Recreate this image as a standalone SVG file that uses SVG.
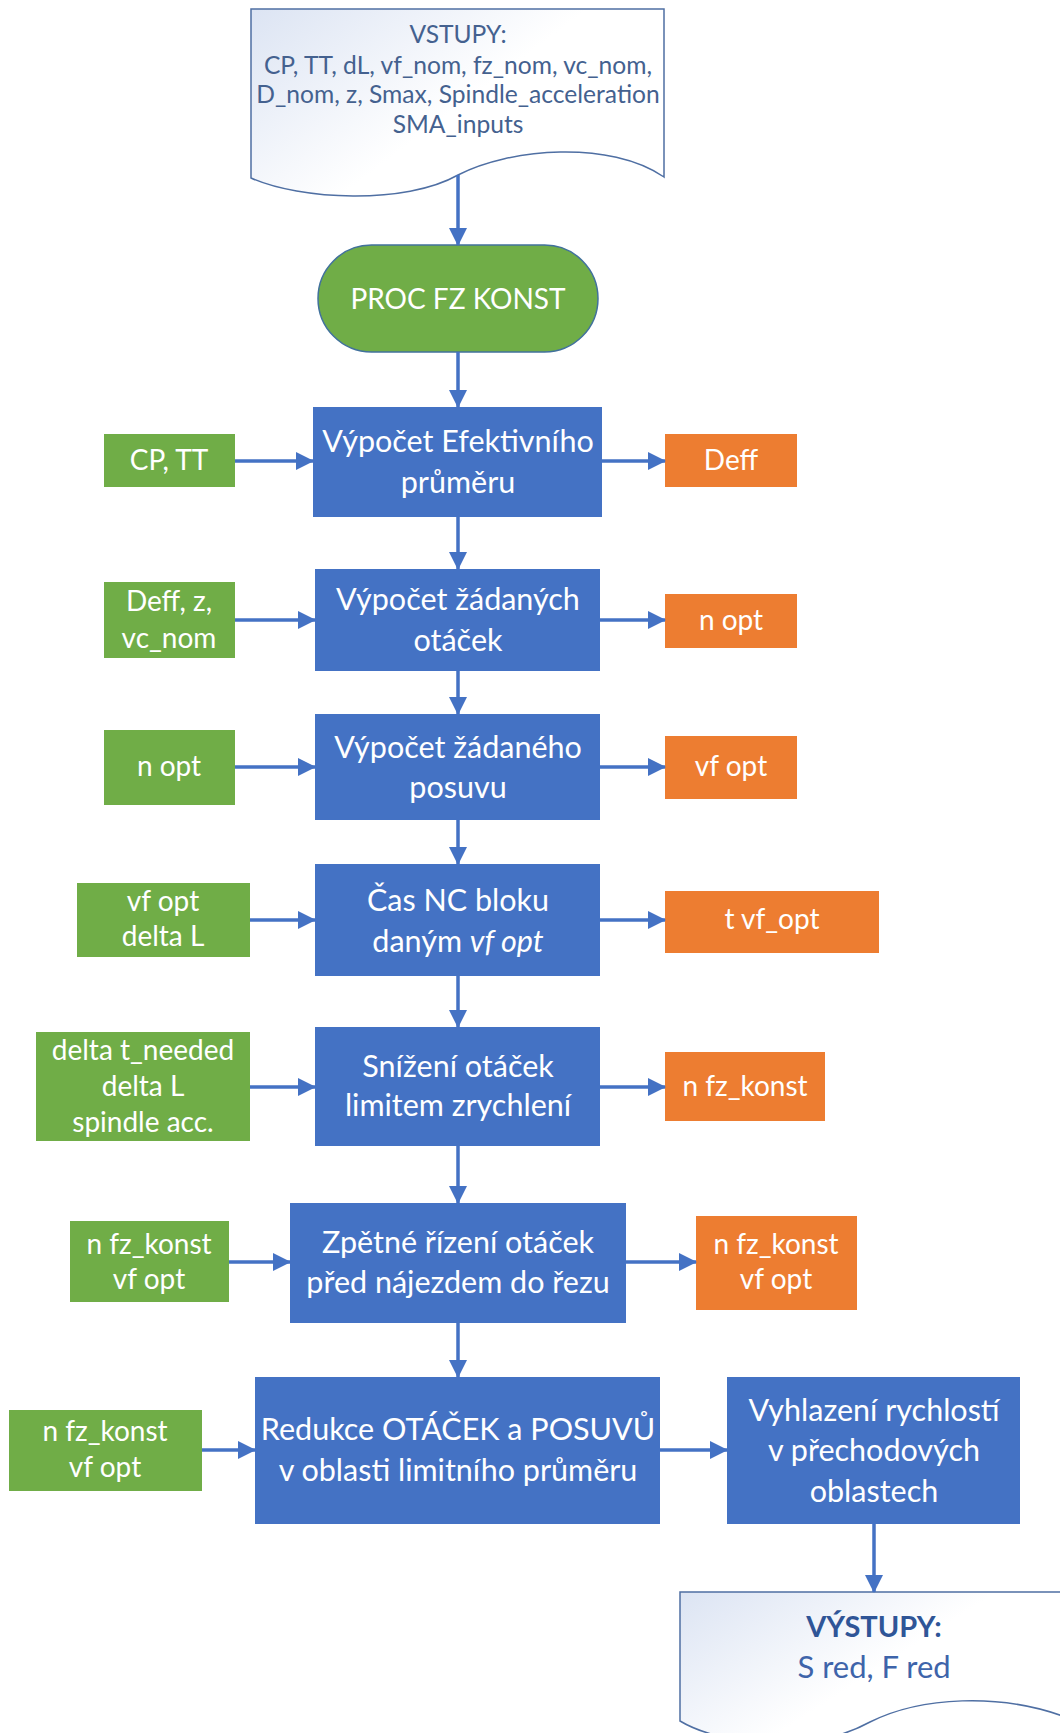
<svg xmlns="http://www.w3.org/2000/svg" width="1060" height="1733" viewBox="0 0 1060 1733">
<defs>
<linearGradient id="docg" x1="0" y1="0" x2="1" y2="0.6">
<stop offset="0" stop-color="#DCE4F3"/>
<stop offset="0.6" stop-color="#FFFFFF"/>
</linearGradient>
<marker id="ah" markerUnits="userSpaceOnUse" markerWidth="18" markerHeight="18" refX="17" refY="9" orient="auto">
<path d="M0,0 L18,9 L0,18 Z" fill="#4472C4"/>
</marker>
<style>
.t{font-family:Lato,"Liberation Sans",sans-serif;font-size:28px;fill:#FFFFFF;text-anchor:middle}
.bt{font-size:30.5px}
.b{fill:#4472C4}
.g{fill:#70AD47}
.o{fill:#ED7D31}
.doc{fill:url(#docg);stroke:#4F6FA3;stroke-width:1.5}
.dt{font-family:Lato,"Liberation Sans",sans-serif;font-size:24.6px;fill:#44618F;text-anchor:middle}
.c{stroke:#4472C4;stroke-width:3.5;fill:none;marker-end:url(#ah)}
</style>
</defs>

<g id="vstupy">
<path class="doc" d="M251,9 H664 V177 C610,140 510,148 458,175 C405,205 300,200 251,178 Z"/>
<text class="dt" x="458" y="43">VSTUPY:</text>
<text class="dt" x="458" y="74">CP, TT, dL, vf_nom, fz_nom, vc_nom,</text>
<text class="dt" x="458" y="103">D_nom, z, Smax, Spindle_acceleration</text>
<text class="dt" x="458" y="133">SMA_inputs</text>
</g>

<g id="proc">
<rect x="318" y="245" width="280" height="107" rx="53.5" fill="#70AD47" stroke="#41719C" stroke-width="1.5"/>
<text class="t" x="458" y="309">PROC FZ KONST</text>
</g>

<g id="b1">
<rect class="b" x="313" y="407" width="289" height="110"/>
<text class="t bt" x="458" y="452">Výpočet Efektivního</text>
<text class="t bt" x="458" y="493">průměru</text>
</g>
<g id="in1">
<rect class="g" x="104" y="434" width="131" height="53"/>
<text class="t" x="169" y="470">CP, TT</text>
</g>
<g id="out1">
<rect class="o" x="665" y="434" width="132" height="53"/>
<text class="t" x="731" y="470">Deff</text>
</g>

<g id="b2">
<rect class="b" x="315" y="569" width="285" height="102"/>
<text class="t bt" x="458" y="610">Výpočet žádaných</text>
<text class="t bt" x="458" y="651">otáček</text>
</g>
<g id="in2">
<rect class="g" x="104" y="582" width="131" height="76"/>
<text class="t" x="169" y="611">Deff, z,</text>
<text class="t" x="169" y="648">vc_nom</text>
</g>
<g id="out2">
<rect class="o" x="665" y="594" width="132" height="54"/>
<text class="t" x="731" y="630">n opt</text>
</g>

<g id="b3">
<rect class="b" x="315" y="714" width="285" height="106"/>
<text class="t bt" x="458" y="758">Výpočet žádaného</text>
<text class="t bt" x="458" y="798">posuvu</text>
</g>
<g id="in3">
<rect class="g" x="104" y="730" width="131" height="75"/>
<text class="t" x="169" y="776">n opt</text>
</g>
<g id="out3">
<rect class="o" x="665" y="736" width="132" height="63"/>
<text class="t" x="731" y="776">vf opt</text>
</g>

<g id="b4">
<rect class="b" x="315" y="864" width="285" height="112"/>
<text class="t bt" x="458" y="911">Čas NC bloku</text>
<text class="t bt" x="458" y="952">daným <tspan font-style="italic">vf opt</tspan></text>
</g>
<g id="in4">
<rect class="g" x="77" y="883" width="173" height="74"/>
<text class="t" x="163" y="911">vf opt</text>
<text class="t" x="163" y="946">delta L</text>
</g>
<g id="out4">
<rect class="o" x="665" y="891" width="214" height="62"/>
<text class="t" x="772" y="929">t vf_opt</text>
</g>

<g id="b5">
<rect class="b" x="315" y="1027" width="285" height="119"/>
<text class="t bt" x="458" y="1077">Snížení otáček</text>
<text class="t bt" x="458" y="1116">limitem zrychlení</text>
</g>
<g id="in5">
<rect class="g" x="36" y="1032" width="214" height="109"/>
<text class="t" x="143" y="1060">delta t_needed</text>
<text class="t" x="143" y="1096">delta L</text>
<text class="t" x="143" y="1132">spindle acc.</text>
</g>
<g id="out5">
<rect class="o" x="665" y="1052" width="160" height="69"/>
<text class="t" x="745" y="1096">n fz_konst</text>
</g>

<g id="b6">
<rect class="b" x="290" y="1203" width="336" height="120"/>
<text class="t bt" x="458" y="1253">Zpětné řízení otáček</text>
<text class="t bt" x="458" y="1293">před nájezdem do řezu</text>
</g>
<g id="in6">
<rect class="g" x="70" y="1221" width="159" height="81"/>
<text class="t" x="149" y="1254">n fz_konst</text>
<text class="t" x="149" y="1289">vf opt</text>
</g>
<g id="out6">
<rect class="o" x="696" y="1216" width="161" height="94"/>
<text class="t" x="776" y="1254">n fz_konst</text>
<text class="t" x="776" y="1289">vf opt</text>
</g>

<g id="b7">
<rect class="b" x="255" y="1377" width="405" height="147"/>
<text class="t bt" x="458" y="1440">Redukce OTÁČEK a POSUVŮ</text>
<text class="t bt" x="458" y="1481">v oblasti limitního průměru</text>
</g>
<g id="in7">
<rect class="g" x="9" y="1410" width="193" height="81"/>
<text class="t" x="105" y="1441">n fz_konst</text>
<text class="t" x="105" y="1477">vf opt</text>
</g>
<g id="b8">
<rect class="b" x="727" y="1377" width="293" height="147"/>
<text class="t bt" x="874" y="1421">Vyhlazení rychlostí</text>
<text class="t bt" x="874" y="1461">v přechodových</text>
<text class="t bt" x="874" y="1502">oblastech</text>
</g>

<g id="vystupy">
<path class="doc" d="M680,1592 H1068 V1718 C1000,1692 920,1697 870,1722 C810,1755 720,1745 680,1721 Z"/>
<text class="dt" x="874" y="1637" style="font-size:29px;font-weight:bold;fill:#2F5597">VÝSTUPY:</text>
<text class="dt" x="874" y="1678" style="font-size:31px;fill:#3E64AA">S red, F red</text>
</g>

<g id="connectors">
<line class="c" x1="458" y1="175" x2="458" y2="245"/>
<line class="c" x1="458" y1="352" x2="458" y2="407"/>
<line class="c" x1="458" y1="517" x2="458" y2="569"/>
<line class="c" x1="458" y1="671" x2="458" y2="714"/>
<line class="c" x1="458" y1="820" x2="458" y2="864"/>
<line class="c" x1="458" y1="976" x2="458" y2="1027"/>
<line class="c" x1="458" y1="1146" x2="458" y2="1203"/>
<line class="c" x1="458" y1="1323" x2="458" y2="1377"/>
<line class="c" x1="874" y1="1524" x2="874" y2="1592"/>
<line class="c" x1="235" y1="461" x2="313" y2="461"/>
<line class="c" x1="602" y1="461" x2="665" y2="461"/>
<line class="c" x1="235" y1="620" x2="315" y2="620"/>
<line class="c" x1="600" y1="620" x2="665" y2="620"/>
<line class="c" x1="235" y1="767" x2="315" y2="767"/>
<line class="c" x1="600" y1="767" x2="665" y2="767"/>
<line class="c" x1="250" y1="920" x2="315" y2="920"/>
<line class="c" x1="600" y1="920" x2="665" y2="920"/>
<line class="c" x1="250" y1="1087" x2="315" y2="1087"/>
<line class="c" x1="600" y1="1087" x2="665" y2="1087"/>
<line class="c" x1="229" y1="1262" x2="290" y2="1262"/>
<line class="c" x1="626" y1="1262" x2="696" y2="1262"/>
<line class="c" x1="202" y1="1450" x2="255" y2="1450"/>
<line class="c" x1="660" y1="1450" x2="727" y2="1450"/>
</g>
</svg>
